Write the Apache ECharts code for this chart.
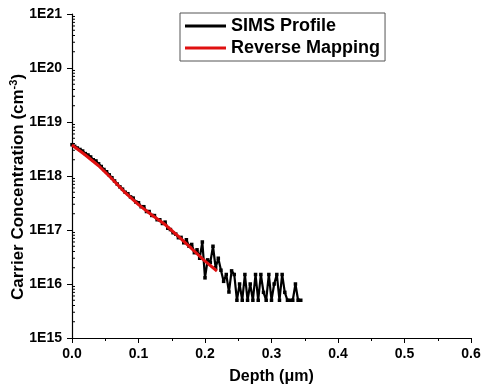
<!DOCTYPE html>
<html>
<head>
<meta charset="utf-8">
<script src="https://cdn.jsdelivr.net/npm/echarts@6/dist/echarts.min.js"></script>
<style>
  html, body { margin: 0; padding: 0; background: #fff; }
  #chart { width: 486px; height: 389px; }
</style>
</head>
<body>
<div id="chart"></div>
<script>
// SIMS depth profile (depth in µm, concentration in cm^-3)
const simsDepth = [
  0.000, 0.004, 0.008, 0.012, 0.016, 0.020, 0.024, 0.028, 0.032, 0.036,
  0.040, 0.044, 0.048, 0.052, 0.056, 0.060, 0.064, 0.068, 0.072, 0.076,
  0.080, 0.084, 0.088, 0.092, 0.096, 0.100, 0.104, 0.108, 0.112, 0.116,
  0.120, 0.124, 0.128, 0.132, 0.136, 0.140, 0.144, 0.148, 0.152, 0.156,
  0.160, 0.164, 0.168, 0.172, 0.176, 0.180, 0.184, 0.188, 0.192, 0.196,
  0.200, 0.204, 0.208, 0.212, 0.216, 0.220, 0.224, 0.228, 0.232, 0.236,
  0.240, 0.244, 0.248, 0.252, 0.256, 0.260, 0.264, 0.268, 0.272, 0.276,
  0.280, 0.284, 0.288, 0.292, 0.296, 0.300, 0.304, 0.308, 0.312, 0.316,
  0.320, 0.324, 0.328, 0.332, 0.336, 0.340, 0.344
];
const simsConc = [
  3.8e18, 3.55e18, 3.3e18, 3.1e18, 2.9e18, 2.6e18, 2.45e18, 2.25e18, 2.0e18, 1.9e18,
  1.68e18, 1.5e18, 1.32e18, 1.2e18, 1.05e18, 9.3e17, 8.1e17, 7.1e17, 6.3e17, 5.7e17,
  5.0e17, 4.7e17, 4.1e17, 3.9e17, 3.3e17, 3.2e17, 2.7e17, 2.7e17, 2.2e17, 2.2e17,
  1.86e17, 1.85e17, 1.55e17, 1.55e17, 1.32e17, 1.4e17, 1.08e17, 1.02e17, 8.9e16, 8.4e16,
  7.2e16, 7.3e16, 5.8e16, 6.6e16, 5.0e16, 5.4e16, 3.8e16, 4.3e16, 3.0e16, 6.0e16,
  1.3e16, 2.8e16, 2.5e16, 5.0e16, 2.0e16, 3.0e16, 1.8e16, 1.12e16, 1.5e16, 7.1e15,
  1.75e16, 1.5e16, 5.0e15, 1.0e16, 5.0e15, 1.5e16, 5.0e15, 1.0e16, 5.0e15, 1.5e16,
  5.0e15, 1.5e16, 7.0e15, 5.0e15, 1.5e16, 5.0e15, 1.0e16, 1.5e16, 5.0e15, 1.5e16,
  7.0e15, 5.0e15, 5.0e15, 5.0e15, 1.0e16, 5.0e15, 5.0e15
];

// Reverse-mapped carrier profile
const mapDepth = [0.000, 0.020, 0.040, 0.060, 0.080, 0.100, 0.120, 0.140, 0.160, 0.180, 0.200, 0.218];
const mapConc  = [3.75e18, 2.45e18, 1.55e18, 8.9e17, 4.9e17, 2.95e17, 1.9e17, 1.26e17, 7.6e16, 4.5e16, 2.65e16, 1.74e16];

// Axis ranges and tick positions
const depthTicks = [0.0, 0.1, 0.2, 0.3, 0.4, 0.5, 0.6];
const decades = [15, 16, 17, 18, 19, 20, 21];
const minorMultipliers = [2, 3, 4, 5, 6, 7, 8, 9];

const seriesNames = ['SIMS Profile', 'Reverse Mapping'];

const FONT = '"Liberation Sans", Arial, sans-serif';

const simsData = simsDepth.map((d, i) => [d, simsConc[i]]);
const mapData = mapDepth.map((d, i) => [d, mapConc[i]]);

// minor log ticks between decades (2..9 × 10^n)
const minorTickValues = [];
decades.slice(0, -1).forEach(e => {
  minorMultipliers.forEach(m => minorTickValues.push([0, m * Math.pow(10, e)]));
});

const chart = echarts.init(document.getElementById('chart'), null, { renderer: 'canvas' });

chart.setOption({
  animation: false,
  backgroundColor: '#ffffff',
  grid: { left: 72, right: 15, top: 14, bottom: 51, containLabel: false, outerBoundsMode: 'none' },
  legend: {
    data: seriesNames,
    orient: 'vertical',
    left: 180,
    top: 13,
    icon: 'rect',
    itemWidth: 41,
    itemHeight: 3,
    itemGap: 4,
    padding: [4, 5, 4, 5],
    borderColor: '#555',
    borderWidth: 1,
    textStyle: { fontFamily: FONT, fontWeight: 'bold', fontSize: 18, color: '#000' }
  },
  xAxis: {
    type: 'value',
    min: depthTicks[0],
    max: depthTicks[depthTicks.length - 1],
    interval: 0.1,
    name: 'Depth (μm)',
    nameLocation: 'middle',
    nameGap: 31,
    nameMoveOverlap: false,
    nameTextStyle: { fontFamily: FONT, fontWeight: 'bold', fontSize: 16, color: '#000' },
    axisLine: { lineStyle: { color: '#000', width: 1.2 } },
    axisTick: { inside: false, length: 5, lineStyle: { color: '#000' } },
    minorTick: { show: true, splitNumber: 2, length: 3, lineStyle: { color: '#000' } },
    splitLine: { show: false },
    axisLabel: {
      margin: 9,
      fontFamily: FONT, fontWeight: 'bold', fontSize: 14, color: '#000',
      formatter: v => v.toFixed(1)
    }
  },
  yAxis: {
    type: 'log',
    logBase: 10,
    min: Math.pow(10, decades[0]),
    max: Math.pow(10, decades[decades.length - 1]),
    splitNumber: 6,
    name: '{t|Carrier Concentration (cm}{s|-3}{t|)}',
    nameLocation: 'middle',
    nameGap: 44,
    nameMoveOverlap: false,
    nameTextStyle: {
      padding: [0, 22, 0, 0],
      rich: {
        t: { fontFamily: FONT, fontWeight: 'bold', fontSize: 17, color: '#000' },
        s: { fontFamily: FONT, fontWeight: 'bold', fontSize: 11, color: '#000', padding: [0, 0, 9, 0] }
      }
    },
    axisLine: { show: true, lineStyle: { color: '#000', width: 1.2 } },
    axisTick: { inside: false, length: 5, lineStyle: { color: '#000' } },
    splitLine: { show: false },
    axisLabel: {
      margin: 10,
      fontFamily: FONT, fontWeight: 'bold', fontSize: 14, color: '#000',
      formatter: v => '1E' + Math.round(Math.log10(v))
    }
  },
  series: [
    {
      name: seriesNames[0],
      type: 'line',
      data: simsData,
      color: '#000',
      lineStyle: { color: '#000', width: 2.2 },
      symbol: 'rect',
      symbolSize: 3.5,
      showAllSymbol: true,
      itemStyle: { color: '#000' },
      z: 2
    },
    {
      name: seriesNames[1],
      type: 'line',
      data: mapData,
      color: '#e01010',
      lineStyle: { color: '#e01010', width: 3 },
      showSymbol: false,
      symbol: 'none',
      z: 3
    },
    {
      // log minor ticks drawn along the inside of the y axis
      type: 'custom',
      silent: true,
      clip: false,
      data: minorTickValues,
      renderItem: (params, api) => {
        const p = api.coord([api.value(0), api.value(1)]);
        return {
          type: 'line',
          shape: { x1: p[0], y1: p[1], x2: p[0] + 3, y2: p[1] },
          style: { stroke: '#000', lineWidth: 1 }
        };
      },
      z: 1
    }
  ]
});
</script>
</body>
</html>
